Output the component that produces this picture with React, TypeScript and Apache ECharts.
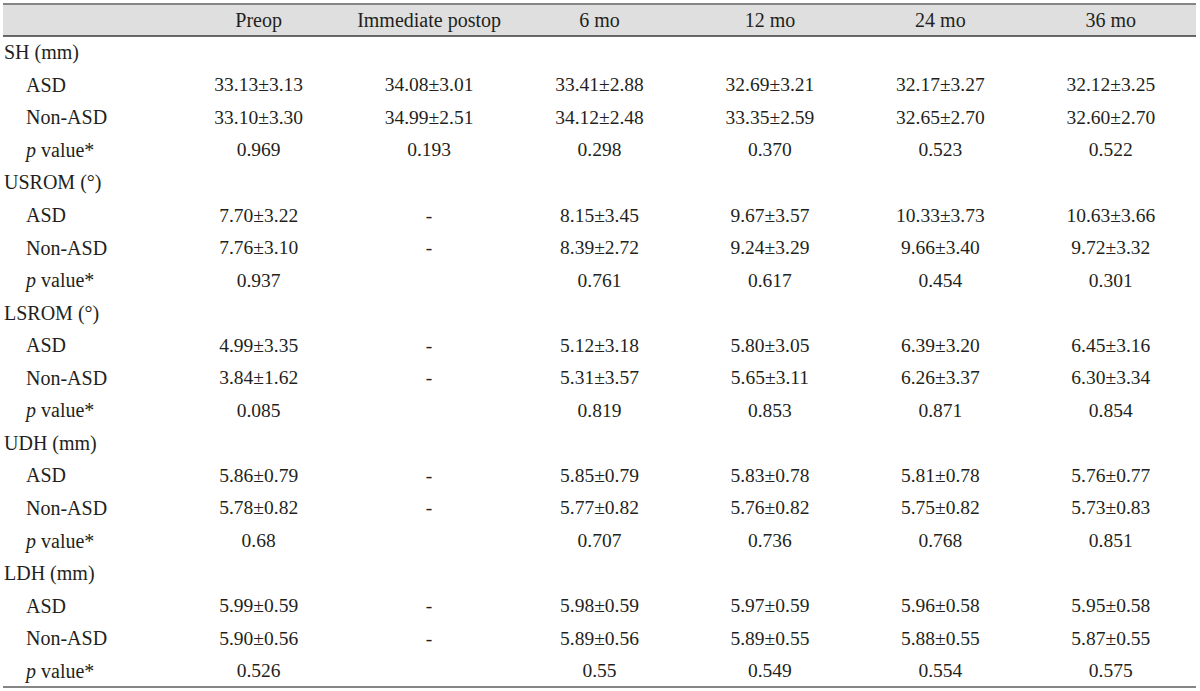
import React, { useEffect, useRef } from "react";
import * as echarts from "echarts";

// ---- Data ----
const columns = ["", "Preop", "Immediate postop", "6 mo", "12 mo", "24 mo", "36 mo"];
const measures = ["SH (mm)", "USROM (°)", "LSROM (°)", "UDH (mm)", "LDH (mm)"];
const groupNames = ["ASD", "Non-ASD"];

const shAsdMean = [33.13, 34.08, 33.41, 32.69, 32.17, 32.12];
const shAsdSd = [3.13, 3.01, 2.88, 3.21, 3.27, 3.25];
const shNonMean = [33.1, 34.99, 34.12, 33.35, 32.65, 32.6];
const shNonSd = [3.3, 2.51, 2.48, 2.59, 2.7, 2.7];
const shP = ["0.969", "0.193", "0.298", "0.370", "0.523", "0.522"];

const usromAsdMean = [7.7, null, 8.15, 9.67, 10.33, 10.63];
const usromAsdSd = [3.22, null, 3.45, 3.57, 3.73, 3.66];
const usromNonMean = [7.76, null, 8.39, 9.24, 9.66, 9.72];
const usromNonSd = [3.1, null, 2.72, 3.29, 3.4, 3.32];
const usromP = ["0.937", "", "0.761", "0.617", "0.454", "0.301"];

const lsromAsdMean = [4.99, null, 5.12, 5.8, 6.39, 6.45];
const lsromAsdSd = [3.35, null, 3.18, 3.05, 3.2, 3.16];
const lsromNonMean = [3.84, null, 5.31, 5.65, 6.26, 6.3];
const lsromNonSd = [1.62, null, 3.57, 3.11, 3.37, 3.34];
const lsromP = ["0.085", "", "0.819", "0.853", "0.871", "0.854"];

const udhAsdMean = [5.86, null, 5.85, 5.83, 5.81, 5.76];
const udhAsdSd = [0.79, null, 0.79, 0.78, 0.78, 0.77];
const udhNonMean = [5.78, null, 5.77, 5.76, 5.75, 5.73];
const udhNonSd = [0.82, null, 0.82, 0.82, 0.82, 0.83];
const udhP = ["0.68", "", "0.707", "0.736", "0.768", "0.851"];

const ldhAsdMean = [5.99, null, 5.98, 5.97, 5.96, 5.95];
const ldhAsdSd = [0.59, null, 0.59, 0.59, 0.58, 0.58];
const ldhNonMean = [5.9, null, 5.89, 5.89, 5.88, 5.87];
const ldhNonSd = [0.56, null, 0.56, 0.55, 0.55, 0.55];
const ldhP = ["0.526", "", "0.55", "0.549", "0.554", "0.575"];

type Block = { asdMean: (number | null)[]; asdSd: (number | null)[]; nonMean: (number | null)[]; nonSd: (number | null)[]; p: string[] };
const blocks: Block[] = [
  { asdMean: shAsdMean, asdSd: shAsdSd, nonMean: shNonMean, nonSd: shNonSd, p: shP },
  { asdMean: usromAsdMean, asdSd: usromAsdSd, nonMean: usromNonMean, nonSd: usromNonSd, p: usromP },
  { asdMean: lsromAsdMean, asdSd: lsromAsdSd, nonMean: lsromNonMean, nonSd: lsromNonSd, p: lsromP },
  { asdMean: udhAsdMean, asdSd: udhAsdSd, nonMean: udhNonMean, nonSd: udhNonSd, p: udhP },
  { asdMean: ldhAsdMean, asdSd: ldhAsdSd, nonMean: ldhNonMean, nonSd: ldhNonSd, p: ldhP },
];

// ---- Build cells ----
type Cell = { col: number; row: number; text: string; kind: "group" | "sub" | "value" };
const cells: Cell[] = [];
let rowCount = 0;
const fmt = (m: number | null, s: number | null) => (m == null || s == null ? "-" : `${m.toFixed(2)}±${s.toFixed(2)}`);
measures.forEach((name, bi) => {
  const b = blocks[bi];
  cells.push({ col: 0, row: rowCount, text: name, kind: "group" });
  rowCount++;
  const groupData = [
    [b.asdMean, b.asdSd],
    [b.nonMean, b.nonSd],
  ];
  groupData.forEach(([means, sds], gi) => {
    cells.push({ col: 0, row: rowCount, text: groupNames[gi], kind: "sub" });
    means.forEach((m, ci) => cells.push({ col: ci + 1, row: rowCount, text: fmt(m, sds[ci]), kind: "value" }));
    rowCount++;
  });
  cells.push({ col: 0, row: rowCount, text: "{i|p} value*", kind: "sub" });
  b.p.forEach((pv, ci) => {
    if (pv) cells.push({ col: ci + 1, row: rowCount, text: pv, kind: "value" });
  });
  rowCount++;
});
const rowKeys = Array.from({ length: rowCount }, (_, i) => String(i));

const FONT = '"Liberation Serif", "Times New Roman", serif';
const TEXT_COLOR = "#231f20";
const FS_TEXT = 20;
const FS_NUM = 19.5;

export default function App() {
  const ref = useRef<HTMLDivElement>(null);
  useEffect(() => {
    if (!ref.current) return;
    const chart = echarts.init(ref.current, null, { renderer: "svg" });
    chart.setOption({
      animation: false,
      backgroundColor: "#ffffff",
      graphic: [
        { type: "rect", z: -10, shape: { x: 3, y: 4, width: 1193, height: 32 }, style: { fill: "#dfdfdf" } },
        { type: "line", z: -5, shape: { x1: 3, y1: 4, x2: 1196, y2: 4 }, style: { stroke: "#858585", lineWidth: 2 } },
        { type: "line", z: -5, shape: { x1: 3, y1: 36, x2: 1196, y2: 36 }, style: { stroke: "#3a3a3a", lineWidth: 1.5 } },
        { type: "line", z: -5, shape: { x1: 3, y1: 687, x2: 1196, y2: 687 }, style: { stroke: "#858585", lineWidth: 2 } },
      ],
      grid: { left: 3, right: 4, top: 36, bottom: 4, containLabel: false },
      xAxis: {
        type: "category",
        position: "top",
        data: columns,
        z: 5,
        axisLine: { show: false },
        axisTick: { show: false },
        splitLine: { show: false },
        axisLabel: {
          interval: 0,
          margin: 16,
          verticalAlign: "middle",
          fontFamily: FONT,
          fontSize: FS_TEXT,
          color: TEXT_COLOR,
        },
      },
      yAxis: {
        type: "category",
        inverse: true,
        data: rowKeys,
        show: false,
      },
      series: [
        {
          type: "custom",
          data: cells.map((c) => [c.col, c.row]),
          renderItem: (params: any, api: any) => {
            const cell = cells[params.dataIndex];
            const pt = api.coord([api.value(0), api.value(1)]);
            const bw = api.size([1, 0])[0];
            let x = pt[0];
            let align = "center";
            let fs = FS_NUM;
            if (cell.kind === "group") {
              x = pt[0] - bw / 2 + 1;
              align = "left";
              fs = FS_TEXT;
            } else if (cell.kind === "sub") {
              x = pt[0] - bw / 2 + 23;
              align = "left";
              fs = FS_TEXT;
            }
            return {
              type: "text",
              x,
              y: pt[1],
              style: {
                text: cell.text,
                fill: TEXT_COLOR,
                fontFamily: FONT,
                fontSize: fs,
                align,
                verticalAlign: "middle",
                rich: {
                  i: { fontStyle: "italic", fontFamily: FONT, fontSize: fs, fill: TEXT_COLOR, color: TEXT_COLOR },
                },
              },
            };
          },
        },
      ],
    });
    return () => chart.dispose();
  }, []);
  return <div ref={ref} style={{ width: 1200, height: 691, position: "absolute", left: 0, top: 0 }} />;
}
